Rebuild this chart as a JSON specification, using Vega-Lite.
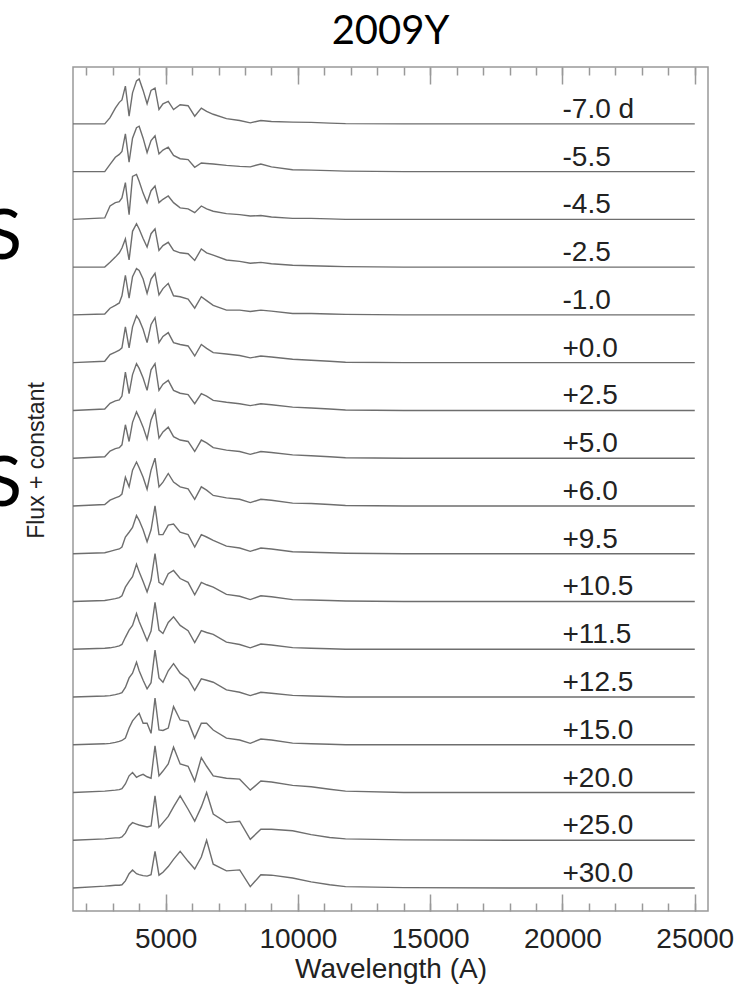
{
"$schema": "https://vega.github.io/schema/vega-lite/v6.json",
"width": 635, "height": 844,
"autosize": "none",
"padding": {"left": 73, "top": 67, "right": 39, "bottom": 73},
"background": "white",
"title": {"text": "2009Y", "anchor": "middle", "font": "Lato", "fontSize": 40, "fontWeight": "normal", "color": "#000", "offset": 14},
"config": {"view": {"stroke": "#999", "strokeWidth": 1.5},
 "axis": {"domain": false, "grid": false, "labelFont": "Liberation Sans", "titleFont": "Liberation Sans", "labelColor": "#222", "titleColor": "#222", "tickColor": "#999", "tickWidth": 1.5, "labelFontSize": 28, "titleFontSize": 28, "titleFontWeight": "normal"}},
"datasets": {
"spec": [
{"w":1500,"s01":16,"s02":15,"s03":14,"s04":13,"s05":12,"s06":11,"s07":10,"s08":9,"s09":8,"s10":7,"s11":6,"s12":5,"s13":4,"s14":3,"s15":2,"s16":1,"s17":0},
{"w":2700,"s01":16,"s02":15,"s03":14.03,"s04":13,"s05":12.02,"s06":11.03,"s07":10.03,"s08":9.03,"s09":8.03,"s10":7.02,"s11":6.02,"s12":5.02,"s13":4.02,"s14":3.02,"s15":2.03,"s16":1.03,"s17":0.04},
{"w":2900,"s01":16.13,"s02":15.15,"s03":14.28,"s04":13.1,"s05":12.14,"s06":11.17,"s07":10.15,"s08":9.15,"s09":8.12,"s10":7.05,"s11":6.04,"s12":5.03,"s13":4.03,"s14":3.03,"s15":2.04,"s16":1.04,"s17":0.05},
{"w":3100,"s01":16.33,"s02":15.3,"s03":14.35,"s04":13.21,"s05":12.2,"s06":11.22,"s07":10.2,"s08":9.2,"s09":8.17,"s10":7.08,"s11":6.06,"s12":5.05,"s13":4.05,"s14":3.05,"s15":2.05,"s16":1.05,"s17":0.06},
{"w":3250,"s01":16.45,"s02":15.36,"s03":14.37,"s04":13.3,"s05":12.25,"s06":11.26,"s07":10.22,"s08":9.22,"s09":8.2,"s10":7.1,"s11":6.08,"s12":5.07,"s13":4.07,"s14":3.07,"s15":2.06,"s16":1.05,"s17":0.06},
{"w":3350,"s01":16.5,"s02":15.42,"s03":14.45,"s04":13.4,"s05":12.4,"s06":11.31,"s07":10.3,"s08":9.28,"s09":8.25,"s10":7.14,"s11":6.12,"s12":5.1,"s13":4.09,"s14":3.09,"s15":2.08,"s16":1.07,"s17":0.07},
{"w":3480,"s01":16.79,"s02":15.79,"s03":14.77,"s04":13.59,"s05":12.83,"s06":11.75,"s07":10.8,"s08":9.7,"s09":8.6,"s10":7.35,"s11":6.3,"s12":5.25,"s13":4.2,"s14":3.14,"s15":2.18,"s16":1.15,"s17":0.15},
{"w":3620,"s01":16.16,"s02":15.2,"s03":14.1,"s04":13.15,"s05":12.35,"s06":11.31,"s07":10.35,"s08":9.35,"s09":8.4,"s10":7.45,"s11":6.42,"s12":5.4,"s13":4.4,"s14":3.35,"s15":2.35,"s16":1.3,"s17":0.3},
{"w":3750,"s01":16.65,"s02":15.7,"s03":14.9,"s04":13.75,"s05":12.8,"s06":11.75,"s07":10.75,"s08":9.75,"s09":8.75,"s10":7.55,"s11":6.52,"s12":5.5,"s13":4.5,"s14":3.5,"s15":2.42,"s16":1.37,"s17":0.38},
{"w":3900,"s01":16.9,"s02":15.92,"s03":14.94,"s04":13.91,"s05":12.97,"s06":11.98,"s07":10.98,"s08":9.97,"s09":8.92,"s10":7.8,"s11":6.78,"s12":5.75,"s13":4.73,"s14":3.6,"s15":2.32,"s16":1.34,"s17":0.3},
{"w":4000,"s01":16.94,"s02":15.95,"s03":14.8,"s04":13.8,"s05":12.93,"s06":11.9,"s07":10.88,"s08":9.85,"s09":8.8,"s10":7.7,"s11":6.62,"s12":5.58,"s13":4.55,"s14":3.66,"s15":2.35,"s16":1.32,"s17":0.28},
{"w":4150,"s01":16.7,"s02":15.7,"s03":14.55,"s04":13.6,"s05":12.75,"s06":11.7,"s07":10.68,"s08":9.65,"s09":8.6,"s10":7.5,"s11":6.42,"s12":5.38,"s13":4.35,"s14":3.45,"s15":2.38,"s16":1.3,"s17":0.26},
{"w":4300,"s01":16.42,"s02":15.4,"s03":14.35,"s04":13.42,"s05":12.45,"s06":11.42,"s07":10.42,"s08":9.4,"s09":8.35,"s10":7.25,"s11":6.2,"s12":5.18,"s13":4.17,"s14":3.45,"s15":2.33,"s16":1.28,"s17":0.25},
{"w":4450,"s01":16.7,"s02":15.65,"s03":14.6,"s04":13.7,"s05":12.75,"s06":11.8,"s07":10.85,"s08":9.8,"s09":8.75,"s10":7.5,"s11":6.45,"s12":5.38,"s13":4.3,"s14":3.24,"s15":2.3,"s16":1.3,"s17":0.28},
{"w":4600,"s01":16.75,"s02":15.75,"s03":14.7,"s04":13.8,"s05":12.87,"s06":11.94,"s07":10.98,"s08":10.0,"s09":9.0,"s10":8.0,"s11":7.0,"s12":5.98,"s13":4.98,"s14":3.98,"s15":2.98,"s16":1.93,"s17":0.77},
{"w":4750,"s01":16.3,"s02":15.37,"s03":14.35,"s04":13.35,"s05":12.42,"s06":11.42,"s07":10.42,"s08":9.42,"s09":8.4,"s10":7.4,"s11":6.4,"s12":5.4,"s13":4.4,"s14":3.31,"s15":2.35,"s16":1.27,"s17":0.27},
{"w":4900,"s01":16.42,"s02":15.45,"s03":14.42,"s04":13.45,"s05":12.55,"s06":11.55,"s07":10.55,"s08":9.55,"s09":8.5,"s10":7.4,"s11":6.35,"s12":5.33,"s13":4.31,"s14":3.3,"s15":2.45,"s16":1.37,"s17":0.33},
{"w":5100,"s01":16.47,"s02":15.51,"s03":14.49,"s04":13.52,"s05":12.66,"s06":11.63,"s07":10.63,"s08":9.65,"s09":8.68,"s10":7.6,"s11":6.58,"s12":5.56,"s13":4.55,"s14":3.35,"s15":2.6,"s16":1.5,"s17":0.45},
{"w":5300,"s01":16.3,"s02":15.34,"s03":14.35,"s04":13.35,"s05":12.4,"s06":11.42,"s07":10.42,"s08":9.45,"s09":8.5,"s10":7.62,"s11":6.65,"s12":5.68,"s13":4.7,"s14":3.8,"s15":2.95,"s16":1.7,"s17":0.6},
{"w":5550,"s01":16.4,"s02":15.27,"s03":14.24,"s04":13.3,"s05":12.38,"s06":11.38,"s07":10.36,"s08":9.38,"s09":8.4,"s10":7.45,"s11":6.48,"s12":5.5,"s13":4.5,"s14":3.52,"s15":2.6,"s16":1.93,"s17":0.77},
{"w":5850,"s01":16.38,"s02":15.25,"s03":14.22,"s04":13.28,"s05":12.33,"s06":11.35,"s07":10.33,"s08":9.35,"s09":8.36,"s10":7.4,"s11":6.4,"s12":5.39,"s13":4.38,"s14":3.49,"s15":2.55,"s16":1.65,"s17":0.56},
{"w":6100,"s01":16.16,"s02":15.09,"s03":14.14,"s04":13.14,"s05":12.14,"s06":11.14,"s07":10.14,"s08":9.14,"s09":8.14,"s10":7.14,"s11":6.14,"s12":5.14,"s13":4.14,"s14":3.14,"s15":2.24,"s16":1.4,"s17":0.4},
{"w":6350,"s01":16.33,"s02":15.18,"s03":14.28,"s04":13.38,"s05":12.38,"s06":11.38,"s07":10.35,"s08":9.38,"s09":8.4,"s10":7.4,"s11":6.4,"s12":5.39,"s13":4.38,"s14":3.45,"s15":2.73,"s16":1.7,"s17":0.65},
{"w":6550,"s01":16.26,"s02":15.17,"s03":14.22,"s04":13.3,"s05":12.3,"s06":11.3,"s07":10.3,"s08":9.32,"s09":8.33,"s10":7.35,"s11":6.35,"s12":5.35,"s13":4.35,"s14":3.45,"s15":2.55,"s16":2.0,"s17":1.0},
{"w":6800,"s01":16.2,"s02":15.16,"s03":14.17,"s04":13.25,"s05":12.2,"s06":11.21,"s07":10.21,"s08":9.22,"s09":8.22,"s10":7.28,"s11":6.3,"s12":5.31,"s13":4.31,"s14":3.31,"s15":2.35,"s16":1.55,"s17":0.5},
{"w":7300,"s01":16.11,"s02":15.13,"s03":14.12,"s04":13.15,"s05":12.1,"s06":11.18,"s07":10.17,"s08":9.17,"s09":8.17,"s10":7.16,"s11":6.15,"s12":5.15,"s13":4.15,"s14":3.14,"s15":2.3,"s16":1.37,"s17":0.36},
{"w":7800,"s01":16.07,"s02":15.11,"s03":14.1,"s04":13.12,"s05":12.1,"s06":11.15,"s07":10.14,"s08":9.14,"s09":8.14,"s10":7.12,"s11":6.11,"s12":5.1,"s13":4.1,"s14":3.1,"s15":2.28,"s16":1.4,"s17":0.38},
{"w":8200,"s01":16.02,"s02":15.1,"s03":14.07,"s04":13.08,"s05":12.07,"s06":11.1,"s07":10.1,"s08":9.08,"s09":8.07,"s10":7.05,"s11":6.04,"s12":5.03,"s13":4.03,"s14":3.03,"s15":2.05,"s16":1.02,"s17":0.03},
{"w":8600,"s01":16.07,"s02":15.16,"s03":14.08,"s04":13.1,"s05":12.1,"s06":11.14,"s07":10.14,"s08":9.14,"s09":8.14,"s10":7.12,"s11":6.12,"s12":5.11,"s13":4.1,"s14":3.12,"s15":2.24,"s16":1.23,"s17":0.28},
{"w":9000,"s01":16.05,"s02":15.1,"s03":14.05,"s04":13.07,"s05":12.08,"s06":11.12,"s07":10.12,"s08":9.12,"s09":8.12,"s10":7.1,"s11":6.1,"s12":5.09,"s13":4.08,"s14":3.1,"s15":2.22,"s16":1.23,"s17":0.27},
{"w":9800,"s01":16.035,"s02":15.04,"s03":14.02,"s04":13.04,"s05":12.03,"s06":11.07,"s07":10.07,"s08":9.07,"s09":8.06,"s10":7.04,"s11":6.04,"s12":5.035,"s13":4.035,"s14":3.035,"s15":2.15,"s16":1.2,"s17":0.21},
{"w":10500,"s01":16.03,"s02":15.03,"s03":14.02,"s04":13.03,"s05":12.03,"s06":11.05,"s07":10.05,"s08":9.05,"s09":8.05,"s10":7.03,"s11":6.03,"s12":5.02,"s13":4.02,"s14":3.02,"s15":2.12,"s16":1.12,"s17":0.13},
{"w":11200,"s01":16.015,"s02":15.02,"s03":14.01,"s04":13.02,"s05":12.02,"s06":11.03,"s07":10.03,"s08":9.03,"s09":8.03,"s10":7.02,"s11":6.02,"s12":5.01,"s13":4.01,"s14":3.01,"s15":2.07,"s16":1.06,"s17":0.07},
{"w":11800,"s01":16.005,"s02":15.01,"s03":14,"s04":13.01,"s05":12.01,"s06":11.01,"s07":10.01,"s08":9.01,"s09":8.01,"s10":7.01,"s11":6.01,"s12":5,"s13":4,"s14":3,"s15":2.03,"s16":1.03,"s17":0.03},
{"w":14000,"s01":16,"s02":15,"s03":14,"s04":13,"s05":12,"s06":11,"s07":10,"s08":9,"s09":8,"s10":7,"s11":6,"s12":5,"s13":4,"s14":3,"s15":2,"s16":1.01,"s17":0.01},
{"w":18000,"s01":16,"s02":15,"s03":14,"s04":13,"s05":12,"s06":11,"s07":10,"s08":9,"s09":8,"s10":7,"s11":6,"s12":5,"s13":4,"s14":3,"s15":2,"s16":1,"s17":0},
{"w":22000,"s01":16,"s02":15,"s03":14,"s04":13,"s05":12,"s06":11,"s07":10,"s08":9,"s09":8,"s10":7,"s11":6,"s12":5,"s13":4,"s14":3,"s15":2,"s16":1,"s17":0},
{"w":25000,"s01":16,"s02":15,"s03":14,"s04":13,"s05":12,"s06":11,"s07":10,"s08":9,"s09":8,"s10":7,"s11":6,"s12":5,"s13":4,"s14":3,"s15":2,"s16":1,"s17":0}
],
"labels": [
{"t":"-7.0 d","o":16},{"t":"-5.5","o":15},{"t":"-4.5","o":14},{"t":"-2.5","o":13},{"t":"-1.0","o":12},{"t":"+0.0","o":11},{"t":"+2.5","o":10},{"t":"+5.0","o":9},{"t":"+6.0","o":8},{"t":"+9.5","o":7},{"t":"+10.5","o":6},{"t":"+11.5","o":5},{"t":"+12.5","o":4},{"t":"+15.0","o":3},{"t":"+20.0","o":2},{"t":"+25.0","o":1},{"t":"+30.0","o":0}
],
"glyph1": [{"t":"S","y":13.6}],
"glyph2": [{"t":"S","y":8.44}]
},
"layer": [
{
 "data": {"name": "spec"},
 "transform": [{"fold": ["s01","s02","s03","s04","s05","s06","s07","s08","s09","s10","s11","s12","s13","s14","s15","s16","s17"], "as": ["k","f"]}],
 "mark": {"type": "line", "color": "#6e6e6e", "strokeWidth": 1.4},
 "encoding": {
  "x": {"field": "w", "type": "quantitative", "scale": {"domain": [1500, 25500], "nice": false, "zero": false},
        "axis": {"orient": "bottom", "values": [5000,10000,15000,20000,25000], "format": "d", "tickSize": -17, "labelPadding": 31, "title": "Wavelength (A)", "titlePadding": 2}},
  "y": {"field": "f", "type": "quantitative", "scale": {"domain": [-0.48, 17.19], "nice": false, "zero": false},
        "axis": {"orient": "left", "title": "Flux + constant", "labels": false, "ticks": false, "domain": false, "titleFont": "Liberation Sans", "titleFontSize": 23, "titleColor": "#222", "titleAngle": -90, "titleX": -37, "titleY": 393, "titleAlign": "center", "titleBaseline": "middle"}},
  "detail": {"field": "k"}
 }
},
{
 "data": {"name": "labels"},
 "mark": {"type": "text", "align": "left", "baseline": "alphabetic", "dy": -6, "font": "Liberation Sans", "fontSize": 28, "color": "#222"},
 "encoding": {
  "x": {"datum": 20000, "type": "quantitative", "scale": {"domain": [1500, 25500], "nice": false, "zero": false},
        "axis": {"orient": "bottom", "values": [2000,3000,4000,5000,6000,7000,8000,9000,10000,11000,12000,13000,14000,15000,16000,17000,18000,19000,20000,21000,22000,23000,24000,25000], "tickSize": -8, "labels": false, "title": null}},
  "y": {"field": "o", "type": "quantitative", "scale": {"domain": [-0.48, 17.19], "nice": false, "zero": false}, "axis": null},
  "text": {"field": "t"}
 }
},
{
 "data": {"name": "glyph1"},
 "mark": {"type": "text", "align": "right", "baseline": "middle", "font": "Lato", "fontSize": 70, "color": "#000"},
 "encoding": {
  "x": {"datum": -430, "type": "quantitative", "scale": {"domain": [1500, 25500], "nice": false, "zero": false},
        "axis": {"orient": "top", "values": [5000,10000,15000,20000,25000], "tickSize": -17, "labels": false, "title": null}},
  "y": {"field": "y", "type": "quantitative", "scale": {"domain": [-0.48, 17.19], "nice": false, "zero": false}, "axis": null},
  "text": {"field": "t"}
 }
},
{
 "data": {"name": "glyph2"},
 "mark": {"type": "text", "align": "right", "baseline": "middle", "font": "Lato", "fontSize": 70, "color": "#000"},
 "encoding": {
  "x": {"datum": -430, "type": "quantitative", "scale": {"domain": [1500, 25500], "nice": false, "zero": false},
        "axis": {"orient": "top", "values": [2000,3000,4000,5000,6000,7000,8000,9000,10000,11000,12000,13000,14000,15000,16000,17000,18000,19000,20000,21000,22000,23000,24000,25000], "tickSize": -8, "labels": false, "title": null}},
  "y": {"field": "y", "type": "quantitative", "scale": {"domain": [-0.48, 17.19], "nice": false, "zero": false}, "axis": null},
  "text": {"field": "t"}
 }
}
],
"resolve": {"axis": {"x": "independent", "y": "independent"}}
}
